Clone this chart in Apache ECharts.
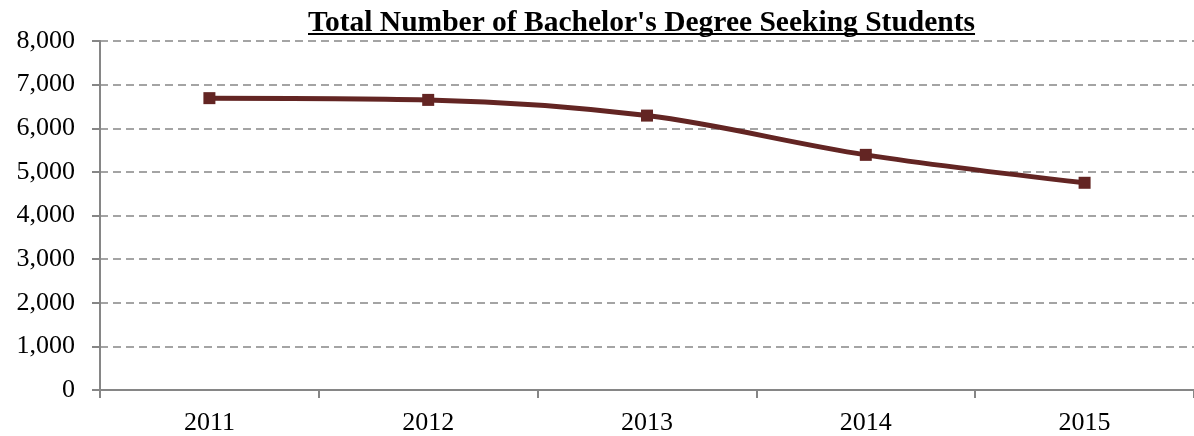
<!DOCTYPE html>
<html>
<head>
<meta charset="utf-8">
<script src="https://cdn.jsdelivr.net/npm/echarts@6/dist/echarts.min.js"></script>
<style>
  html, body { margin: 0; padding: 0; background: #fff; }
  #chart { width: 1194px; height: 436px; }
</style>
</head>
<body>
<div id="chart"></div>
<script>
const titleText = "Total Number of Bachelor's Degree Seeking Students";
const categories = ['2011', '2012', '2013', '2014', '2015'];
const studentCounts = [6690, 6650, 6290, 5390, 4750];
const yMin = 0;
const yMax = 8000;
const yInterval = 1000;

const FONT = "'Liberation Serif', 'Times New Roman', serif";
const titleSize = 29.5;
const titleLeft = 308;
const titleTop = 8;

// measure title width for the underline
const cv = document.createElement('canvas');
const ctx = cv.getContext('2d');
ctx.font = 'bold ' + titleSize + 'px ' + FONT;
const titleWidth = ctx.measureText(titleText).width;

const chart = echarts.init(document.getElementById('chart'));
chart.setOption({
  animation: false,
  backgroundColor: '#ffffff',
  title: {
    text: titleText,
    left: titleLeft,
    top: titleTop,
    padding: 0,
    textStyle: {
      fontFamily: FONT,
      fontWeight: 'bold',
      fontSize: titleSize,
      color: '#000000'
    }
  },
  graphic: [{
    type: 'line',
    shape: { x1: titleLeft, y1: 34, x2: titleLeft + titleWidth, y2: 34 },
    style: { stroke: '#000000', lineWidth: 2 },
    silent: true
  }],
  grid: { left: 100, right: -2, top: 41, bottom: 45, containLabel: false },
  xAxis: {
    type: 'category',
    data: categories,
    boundaryGap: true,
    axisLine: { show: true, lineStyle: { color: '#868686', width: 2 } },
    axisTick: { show: true, length: 8, alignWithLabel: false, lineStyle: { color: '#868686', width: 2 } },
    axisLabel: { color: '#000000', fontFamily: FONT, fontSize: 26, margin: 20 },
    splitLine: { show: false }
  },
  yAxis: {
    type: 'value',
    min: yMin,
    max: yMax,
    interval: yInterval,
    axisLine: { show: true, lineStyle: { color: '#868686', width: 2 } },
    axisTick: { show: true, length: 8, lineStyle: { color: '#868686', width: 2 } },
    axisLabel: {
      color: '#000000', fontFamily: FONT, fontSize: 26, margin: 25,
      formatter: v => v.toLocaleString('en-US')
    },
    splitLine: { show: true, lineStyle: { color: '#868686', width: 1.5, type: [8, 5] } }
  },
  series: [{
    type: 'line',
    data: studentCounts,
    smooth: 0.35,
    symbol: 'rect',
    symbolSize: 12,
    lineStyle: { color: '#632523', width: 5 },
    itemStyle: { color: '#632523' },
    z: 5
  }]
});
</script>
</body>
</html>
